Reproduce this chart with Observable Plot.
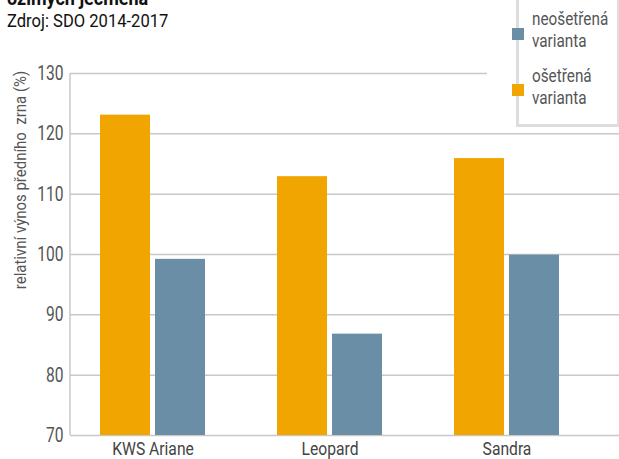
<!DOCTYPE html>
<html><head><meta charset="utf-8">
<script src="https://cdn.jsdelivr.net/npm/d3@7"></script>
<script src="https://cdn.jsdelivr.net/npm/@observablehq/plot@0.6"></script>
<style>
html,body{margin:0;padding:0;background:#fff;}
#wrap{position:relative;width:619px;height:459px;overflow:hidden;font-family:Roboto,sans-serif;}
.abs{position:absolute;white-space:pre;}
</style></head><body>
<div id="wrap">
<div id="chart"></div>
<div class="abs" style="left:7px;top:-12.3px;font-size:20px;line-height:1;font-weight:bold;color:#111;transform:scaleX(0.9);transform-origin:left center;">ozimých ječmena</div>
<div class="abs" style="left:7px;top:11.6px;font-size:18px;line-height:1;color:#111;transform:scaleX(0.92);transform-origin:left center;">Zdroj: SDO 2014-2017</div>
<div class="abs" style="left:20px;top:180px;font-size:17px;color:#555;transform:translate(-50%,-50%) rotate(-90deg) scaleX(0.88);">relativní výnos předního  zrna (%)</div>
<div id="legend" class="abs" style="left:487px;top:0;width:132px;height:128px;background:#fff;">
  <div style="position:absolute;left:29px;top:-4px;width:98px;height:128px;border:3px solid #ddd;border-top:none;"></div>
</div>
</div>
<script>
const categories = ["KWS Ariane", "Leopard", "Sandra"];
const series = ["neošetřená varianta", "ošetřená varianta"];
const untreated = [99.2, 86.8, 99.9];
const treated = [123.1, 112.9, 115.9];
const yTicks = [70, 80, 90, 100, 110, 120, 130];
const colors = {"neošetřená varianta": "#6a8ea6", "ošetřená varianta": "#f0a500"};

const rowsT = categories.map((c, i) => ({cat: c, v: treated[i], s: series[1]}));
const rowsU = categories.map((c, i) => ({cat: c, v: untreated[i], s: series[0]}));

const chart = Plot.plot({
  width: 619, height: 459,
  marginTop: 73, marginBottom: 24, marginLeft: 70, marginRight: 0,
  style: {fontFamily: 'Roboto,sans-serif', background: "#fff"},
  x: {type: "band", domain: categories, range: [63, 595.5], paddingInner: 0.408, paddingOuter: 0.204, label: null},
  y: {domain: [70, 130], ticks: yTicks, label: null},
  marks: [
    Plot.ruleY(yTicks, {stroke: "#c8c8c8", strokeWidth: 1.5}),
    Plot.barY(rowsT, {x: "cat", y1: 70, y2: "v", fill: d => colors[d.s], insetRight: 55}),
    Plot.barY(rowsU, {x: "cat", y1: 70, y2: "v", fill: d => colors[d.s], insetLeft: 55}),
    Plot.axisY({ticks: yTicks, tickSize: 0, tickPadding: 7, fontSize: 20, fill: "#555", label: null}),
    Plot.axisX({tickSize: 0, tickPadding: 7, fontSize: 18, fill: "#444", label: null})
  ]
});
document.getElementById("chart").appendChild(chart);
const svg = d3.select(chart);
// condensed look: compress axis label glyphs horizontally
function condense(sel, k) {
  sel.each(function() {
    const t = this.getAttribute("transform") || "";
    this.setAttribute("transform", t + ` scale(${k},1)`);
  });
}
condense(svg.selectAll('g[aria-label="y-axis tick label"] text'), 0.78);
condense(svg.selectAll('g[aria-label="x-axis tick label"] text'), 0.87);
// y axis line along the frame's left edge
svg.append("line").attr("x1", 70).attr("x2", 70).attr("y1", 73).attr("y2", 435)
  .attr("stroke", "#c8c8c8").attr("stroke-width", 1.5);

// legend built from series/colors
const leg = document.getElementById("legend");
const legendItems = [
  {s: series[0], lines: ["neošetřená", "varianta"], top: 8, sq: 28},
  {s: series[1], lines: ["ošetřená", "varianta"], top: 65, sq: 84}
];
legendItems.forEach(it => {
  const sq = document.createElement("div");
  sq.style.cssText = `position:absolute;left:25px;top:${it.sq}px;width:12px;height:12px;background:${colors[it.s]};`;
  leg.appendChild(sq);
  const t = document.createElement("div");
  t.style.cssText = `position:absolute;left:45px;top:${it.top}px;font-size:18px;line-height:22px;color:#555;transform:scaleX(0.85);transform-origin:left top;`;
  t.innerHTML = it.lines.join("<br>");
  leg.appendChild(t);
});
</script>
</body></html>
